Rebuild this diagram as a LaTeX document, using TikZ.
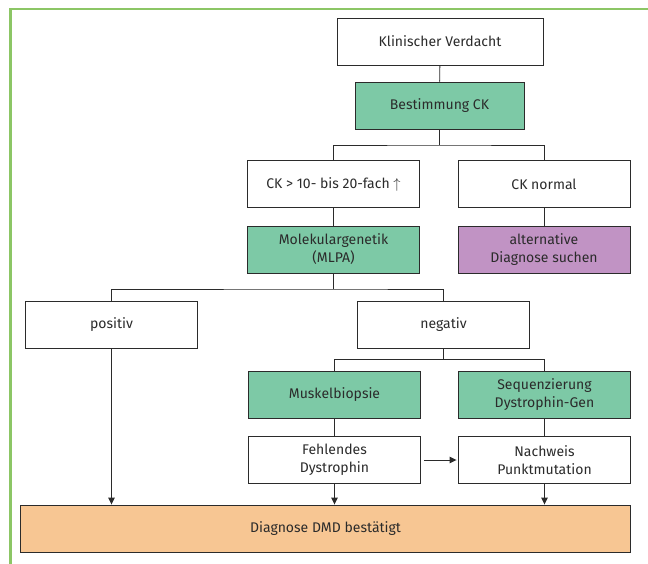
\documentclass[tikz,border=0pt]{standalone}
\usepackage{fontspec}
\setmainfont{Fira Sans}
\usepackage{tikz}
\usetikzlibrary{positioning,arrows.meta,calc}
\definecolor{ink}{HTML}{2B2B2B}
\definecolor{testc}{HTML}{7DC9A6}
\definecolor{altc}{HTML}{C193C4}
\definecolor{dmdc}{HTML}{F7C693}
\definecolor{framec}{HTML}{8CC665}
\begin{document}
\begin{tikzpicture}[
  x=1pt, y=-1pt,
  font=\fontsize{14}{18}\selectfont, >={Triangle[length=7pt,width=6.5pt]},
  box/.style={draw=ink, line width=0.9pt, align=center, minimum height=47pt,
              minimum width=172pt, inner sep=2pt, text=ink},
  plain/.style={box, fill=white},
  test/.style={box, fill=testc},
  alt/.style={box, fill=altc},
  final/.style={box, fill=dmdc, minimum width=610pt},
  link/.style={draw=ink, line width=0.9pt},
  flow/.style={->, draw=ink, line width=0.9pt},
]
\useasboundingbox (0,0) rectangle (648,564);
\draw[framec, line width=2.6pt] (10.5,566) -- (10.5,9) -- (650,9);
% -- upper part
\node[plain, minimum width=206pt] (verdacht) at (440,41.5) {Klinischer Verdacht};
\node[test, minimum width=169pt] (ckbest) at (439.5,105.5) {Bestimmung CK};
\node[plain] (ckhoch) at (333.5,184) {CK > 10- bis 20-fach $\uparrow$};
\node[plain] (cknorm) at (544,184) {CK normal};
\node[test] (mlpa) at (333.5,249.5) {Molekulargenetik\\(MLPA)};
\node[alt] (altdiag) at (544,249.5) {alternative\\Diagnose suchen};
% -- lower part
\node[plain] (pos) at (111.5,325) {positiv};
\node[plain] (neg) at (443.5,325) {negativ};
\node[test] (biopsie) at (334.5,395) {Muskelbiopsie};
\node[test] (seq) at (544.5,395) {Sequenzierung\\Dystrophin-Gen};
\node[plain] (fehlt) at (334.5,460) {Fehlendes\\Dystrophin};
\node[plain] (punkt) at (544.5,460) {Nachweis\\Punktmutation};
\node[final] (dmd) at (325.5,528.5) {Diagnose DMD best\"atigt};
% -- junctions
\coordinate (j1) at (439.5,145);
\coordinate (j2) at (333.5,289);
\coordinate (j3) at (443.5,359.5);
% -- connectors
\draw[link] (verdacht) -- (ckbest);
\draw[link] (ckbest) -- (j1);
\draw[link] (ckhoch.north) |- (j1) -| (cknorm.north);
\draw[link] (ckhoch) -- (mlpa);
\draw[link] (cknorm) -- (altdiag);
\draw[link] (mlpa) -- (j2);
\draw[link] (pos.north) |- (j2) -| (neg.north);
\draw[link] (neg) -- (j3);
\draw[link] (biopsie.north) |- (j3) -| (seq.north);
\draw[link] (biopsie) -- (fehlt);
\draw[link] (seq) -- (punkt);
\draw[flow] (pos.south) -- (pos.south |- dmd.north);
\draw[flow] (fehlt.south) -- (fehlt.south |- dmd.north);
\draw[flow] (punkt.south) -- (punkt.south |- dmd.north);
\draw[flow, shorten <=3pt, shorten >=1.5pt] (fehlt) -- (punkt);
\end{tikzpicture}
\end{document}
